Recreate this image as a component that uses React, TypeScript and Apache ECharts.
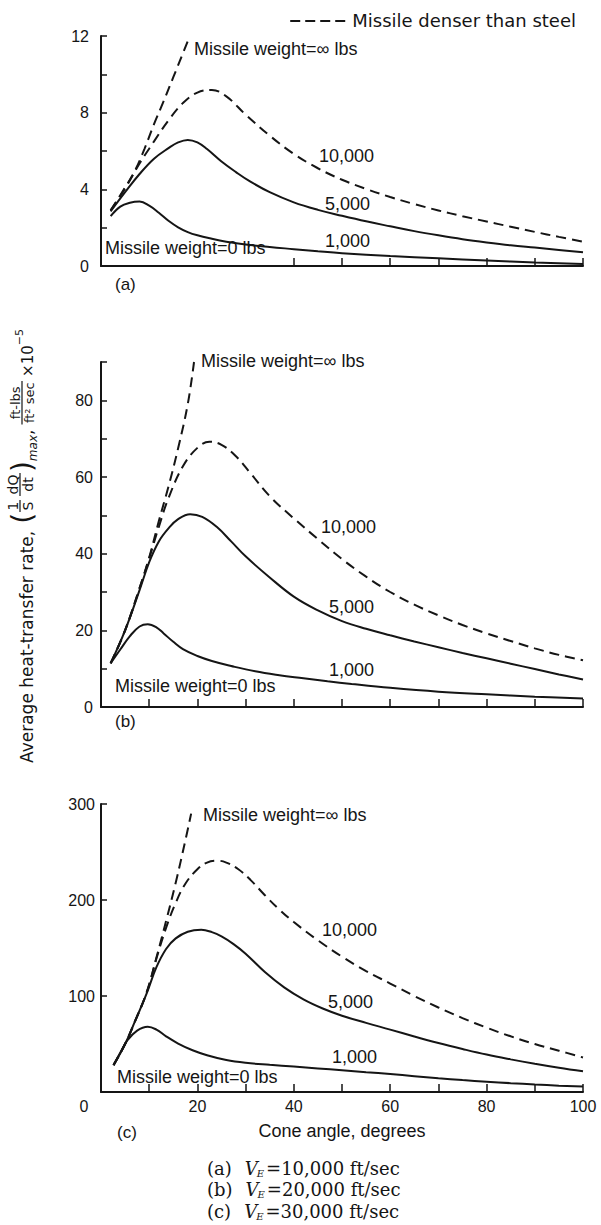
import React, { useEffect, useRef } from "react";
import * as echarts from "echarts";

// ---------- texts / tick labels ----------
const panelTags = ["(a)", "(b)", "(c)"];
const captionSpeeds = ["10,000", "20,000", "30,000"];
const weightLabels = ["10,000", "5,000", "1,000"];
const infinityLabel = "Missile weight=\u221E lbs";
const zeroLabel = "Missile weight=0 lbs";
const legendLabel = "Missile denser than steel";
const xAxisTitle = "Cone angle, degrees";
const yTitleMain = "Average heat-transfer rate,";
const xLabelValues = [0, 20, 40, 60, 80, 100];
const yLabelsA = [0, 4, 8, 12];
const yLabelsB = [0, 20, 40, 60, 80];
const yLabelsC = [100, 200, 300];
const yTicksA = [2, 4, 6, 8, 10, 12];
const yTicksB = [10, 20, 30, 40, 50, 60, 70, 80, 90];
const yTicksC = [100, 200, 300];
const xTicksA = [40, 50, 60, 70, 80, 90, 100];
const xTicksBC = [10, 20, 30, 40, 50, 60, 70, 80, 90, 100];

// ---------- data: [cone angle (deg), heat-transfer rate] ----------
// (a) V_E = 10,000 ft/sec
const aInfinity = [[2, 2.9], [5, 4.1], [7, 4.95], [9, 6.1], [11, 7.4], [13, 8.6], [15, 9.85], [17, 11.1], [18.1, 11.8]];
const a10000 = [[2, 2.9], [5, 4.05], [8, 5.35], [11, 6.5], [14, 7.6], [17, 8.5], [20, 9.05], [23, 9.18], [26, 8.85], [30, 7.9], [35, 6.8], [40, 5.85], [45, 5.1], [50, 4.5], [55, 4.02], [60, 3.6], [65, 3.23], [70, 2.9], [75, 2.6], [80, 2.32], [85, 2.05], [90, 1.78], [95, 1.52], [100, 1.27]];
const a5000 = [[2, 2.85], [5, 3.85], [8, 4.8], [11, 5.6], [14, 6.15], [16, 6.45], [18, 6.58], [20, 6.45], [22, 6.1], [25, 5.45], [28, 4.9], [31, 4.4], [35, 3.85], [40, 3.32], [45, 2.93], [50, 2.62], [55, 2.33], [60, 2.07], [65, 1.82], [70, 1.6], [75, 1.4], [80, 1.23], [85, 1.08], [90, 0.96], [95, 0.84], [100, 0.72]];
const a1000 = [[2, 2.6], [4, 3.1], [6, 3.3], [8, 3.36], [10, 3.15], [12, 2.78], [14, 2.36], [16, 2.02], [18, 1.77], [20, 1.6], [23, 1.42], [26, 1.27], [30, 1.12], [35, 0.99], [40, 0.88], [45, 0.77], [50, 0.67], [60, 0.52], [70, 0.4], [80, 0.29], [90, 0.18], [100, 0.1]];

// (b) V_E = 20,000 ft/sec
const bInfinity = [[2, 11.4], [5, 20], [8, 31], [10, 39], [12, 48.5], [14, 57.5], [16, 67.5], [18, 79], [19.3, 90]];
const b10000 = [[2, 11.4], [5, 20], [8, 31], [10, 38.8], [12, 47], [14, 54.5], [17, 62.8], [20, 67.6], [22.5, 69.2], [25, 68.4], [28, 65.4], [31, 61], [35, 55], [40, 49.2], [45, 43.8], [50, 38.6], [55, 34], [60, 30], [65, 26.7], [70, 23.9], [75, 21.4], [80, 19.2], [85, 17.2], [90, 15.3], [95, 13.6], [100, 12.2]];
const b5000 = [[2, 11.4], [5, 20], [8, 30.5], [10, 37.8], [12, 43.2], [14, 46.6], [16, 49], [18.5, 50.3], [21, 49.6], [24, 47], [27, 43.2], [30, 39.3], [35, 33.8], [40, 28.8], [45, 25.2], [50, 22.4], [55, 20.4], [60, 18.7], [65, 17.1], [70, 15.6], [75, 14.1], [80, 12.7], [85, 11.3], [90, 9.9], [95, 8.5], [100, 7.2]];
const b1000 = [[2, 11.4], [4, 15], [6, 18.5], [8, 21], [9.7, 21.6], [11.5, 20.8], [13, 19.2], [15, 17], [17, 15.1], [20, 13.3], [23, 12], [27, 10.7], [32, 9.3], [37, 8.3], [42, 7.5], [47, 6.7], [52, 6], [60, 5], [70, 4], [80, 3.3], [90, 2.7], [100, 2.2]];

// (c) V_E = 30,000 ft/sec
const cInfinity = [[2.6, 28], [5, 50], [7, 73], [9.5, 104], [11.5, 140], [13.5, 178], [15.5, 218], [17.5, 262], [18.7, 290]];
const c10000 = [[2.6, 28], [5, 50], [7, 73], [9.5, 104], [11.5, 139], [13.5, 171], [15.5, 197], [17.5, 217], [20, 232], [22, 239], [24, 241], [26, 239], [28.5, 232], [31, 221], [34, 205], [37, 190], [40, 177], [45, 158], [50, 141], [55, 126], [60, 113], [65, 100], [70, 88], [75, 77], [80, 67], [85, 58], [90, 50], [95, 43], [100, 36]];
const c5000 = [[2.6, 28], [5, 50], [7, 73], [9.5, 103], [11.5, 130], [13.5, 149], [15.5, 160], [18, 167], [20.8, 169], [23, 166.5], [25, 162], [27.5, 154], [30, 144], [34, 125], [38, 109], [42, 96.5], [46, 87], [50, 79.5], [55, 72], [60, 65], [65, 57.8], [70, 51], [75, 44.8], [80, 39], [85, 34], [90, 29.4], [95, 25.2], [100, 21.5]];
const c1000 = [[2.6, 28], [4, 41], [5.5, 54], [7.5, 64], [9.7, 68], [11.5, 65], [13.5, 58], [16, 50.5], [19, 43.5], [22, 38.3], [26, 33.3], [30, 30.4], [35, 28.3], [40, 26.5], [45, 24.6], [50, 22.6], [55, 20.6], [60, 18.7], [65, 16.5], [70, 14.3], [75, 12.4], [80, 10.8], [85, 9.2], [90, 7.8], [95, 6.6], [100, 5.6]];

const INK = "#151515";
const SANS = '"Liberation Sans", Arial, sans-serif';
const WIDE = '"DejaVu Sans", sans-serif';
const SERIF = '"DejaVu Serif", serif';

export default function App() {
  const ref = useRef<HTMLDivElement>(null);

  useEffect(() => {
    if (!ref.current) return;
    const chart = echarts.init(ref.current, undefined, { renderer: "svg" });
    const ctx = document.createElement("canvas").getContext("2d") as CanvasRenderingContext2D;
    const measure = (t: string, font: string) => {
      ctx.font = font;
      return ctx.measureText(t).width;
    };

    const panels = [
      { top: 36, height: 230, max: 12, interval: 2, labels: yLabelsA, yTicks: yTicksA, xTicks: xTicksA, margin: 12, curves: [aInfinity, a10000, a5000, a1000] },
      { top: 362, height: 345, max: 90, interval: 10, labels: yLabelsB, yTicks: yTicksB, xTicks: xTicksBC, margin: 8, curves: [bInfinity, b10000, b5000, b1000] },
      { top: 804, height: 288, max: 300, interval: 100, labels: yLabelsC, yTicks: yTicksC, xTicks: xTicksBC, margin: 6, curves: [cInfinity, c10000, c5000, c1000] },
    ];

    const axisLine = { show: true, onZero: false, lineStyle: { color: INK, width: 2 } };

    const grid = panels.map((p) => ({ left: 101, right: 18, top: p.top, height: p.height }));

    const xAxis = panels.map((p, i) => ({
      type: "value",
      gridIndex: i,
      min: 0,
      max: 100,
      interval: 10,
      axisLine,
      splitLine: { show: false },
      axisTick: { show: true, inside: true, length: 8, customValues: p.xTicks, lineStyle: { color: INK, width: 1.5 } },
      axisLabel:
        i === 2
          ? {
              show: true,
              customValues: xLabelValues,
              margin: 6,
              fontSize: 16,
              fontFamily: SANS,
              color: INK,
              formatter: (v: number) => (v === 0 ? "{z|0}" : String(v)),
              rich: { z: { padding: [0, 34, 0, 0], fontSize: 16, fontFamily: SANS, color: INK } },
            }
          : { show: false },
      name: i === 2 ? xAxisTitle : "",
      nameLocation: "middle",
      nameGap: 30,
      nameTextStyle: { fontSize: 18, fontFamily: SANS, color: INK },
    }));

    const yAxis = panels.map((p, i) => ({
      type: "value",
      gridIndex: i,
      min: 0,
      max: p.max,
      interval: p.interval,
      axisLine,
      splitLine: { show: false },
      axisTick: { show: true, inside: true, length: 6, customValues: p.yTicks, lineStyle: { color: INK, width: 1.5 } },
      axisLabel: { show: true, customValues: p.labels, margin: p.margin, fontSize: 16, fontFamily: SANS, color: INK },
    }));

    const series: any[] = [];
    panels.forEach((p, i) => {
      p.curves.forEach((data, k) => {
        series.push({
          type: "line",
          xAxisIndex: i,
          yAxisIndex: i,
          data,
          symbol: "none",
          showSymbol: false,
          smooth: 0.4,
          silent: true,
          lineStyle: { color: INK, width: 2, type: k <= 1 ? [10, 6] : "solid" },
        });
      });
    });

    const text = (t: string, x: number, y: number, size = 17, align = "left", family = SANS, italic = false) => ({
      type: "text",
      x,
      y,
      silent: true,
      style: {
        text: t,
        font: `${italic ? "italic " : ""}${size}px ${family}`,
        fill: INK,
        textAlign: align,
        textVerticalAlign: "middle",
        align,
        verticalAlign: "middle",
      },
    });

    const annotationPos = [
      { inf: [194, 49], w: [[319, 156], [325, 204], [325, 241]], zero: [105, 248], tag: [115, 284] },
      { inf: [201, 361], w: [[321, 527], [329, 607], [329, 670]], zero: [115, 686], tag: [115, 721] },
      { inf: [203, 815], w: [[322, 930], [328, 1002], [332, 1057]], zero: [117, 1077], tag: [117, 1132] },
    ];

    const graphic: any[] = [];
    annotationPos.forEach((a, i) => {
      graphic.push(text(infinityLabel, a.inf[0], a.inf[1], 18));
      a.w.forEach((pos, k) => graphic.push(text(weightLabels[k], pos[0], pos[1], 18)));
      graphic.push(text(zeroLabel, a.zero[0], a.zero[1], 18));
      graphic.push(text(panelTags[i], a.tag[0], a.tag[1], 17));
    });

    // legend at top right
    const legFont = `18px ${WIDE}`;
    const legW = measure(legendLabel, legFont);
    const legLeft = 576 - legW;
    graphic.push(text(legendLabel, 576, 20, 18, "right", WIDE));
    graphic.push({
      type: "line",
      silent: true,
      shape: { x1: legLeft - 62, y1: 21, x2: legLeft - 4, y2: 21 },
      style: { stroke: INK, lineWidth: 2, lineDash: [10, 5] },
    });

    // caption lines
    captionSpeeds.forEach((s, i) => {
      const y = 1168 + i * 21.5;
      let x = 207;
      const sz = 18;
      graphic.push(text(panelTags[i], x, y, sz, "left", SERIF));
      x += measure(panelTags[i], `${sz}px ${SERIF}`) + 13;
      graphic.push(text("V", x, y, sz, "left", SERIF, true));
      x += measure("V", `italic ${sz}px ${SERIF}`);
      graphic.push(text("E", x - 1, y + 5, 10, "left", SERIF, true));
      x += measure("E", `italic 10px ${SERIF}`) + 1;
      graphic.push(text(`=${s} ft/sec`, x, y, sz, "left", SERIF));
    });

    // rotated y-axis title
    const kids: any[] = [];
    let cx = 0;
    const fnt = (s: number, it = false) => `${it ? "italic " : ""}${s}px ${WIDE}`;
    const put = (t: string, size: number, cy: number, it = false) => {
      kids.push(text(t, cx, cy, size, "left", WIDE, it));
      cx += measure(t, fnt(size, it));
    };
    const frac = (num: string, den: string, size: number, numCy: number, denCy: number, barY: number) => {
      const w = Math.max(measure(num, fnt(size)), measure(den, fnt(size))) + 3;
      kids.push(text(num, cx + w / 2, numCy, size, "center", WIDE));
      kids.push(text(den, cx + w / 2, denCy, size, "center", WIDE));
      kids.push({ type: "line", silent: true, shape: { x1: cx, y1: barY, x2: cx + w, y2: barY }, style: { stroke: INK, lineWidth: 1.2 } });
      cx += w;
    };
    put(yTitleMain, 17, -6);
    cx += 7;
    put("(", 28, -11);
    cx += 1;
    frac("1", "S", 14, -20, -5, -13);
    cx += 4;
    frac("dQ", "dt", 14, -20, -5, -13);
    cx += 1;
    put(")", 28, -11);
    put("max", 12, 0, true);
    put(",", 17, -6);
    cx += 5;
    frac("ft-lbs", "ft\u00B2 sec", 13, -18, -4, -11);
    cx += 4;
    put("\u00D710", 15, -5);
    put("\u22125", 11, -14);
    const total = cx;
    graphic.push({ type: "group", x: 33, y: 546 + total / 2, rotation: Math.PI / 2, children: kids });

    chart.setOption({
      animation: false,
      backgroundColor: "#ffffff",
      textStyle: { fontFamily: SANS, color: INK },
      grid,
      xAxis,
      yAxis,
      series,
      graphic,
    });

    return () => chart.dispose();
  }, []);

  return (
    <div
      ref={ref}
      style={{ position: "absolute", left: 0, top: 0, width: 601, height: 1225, background: "#fff" }}
    />
  );
}
